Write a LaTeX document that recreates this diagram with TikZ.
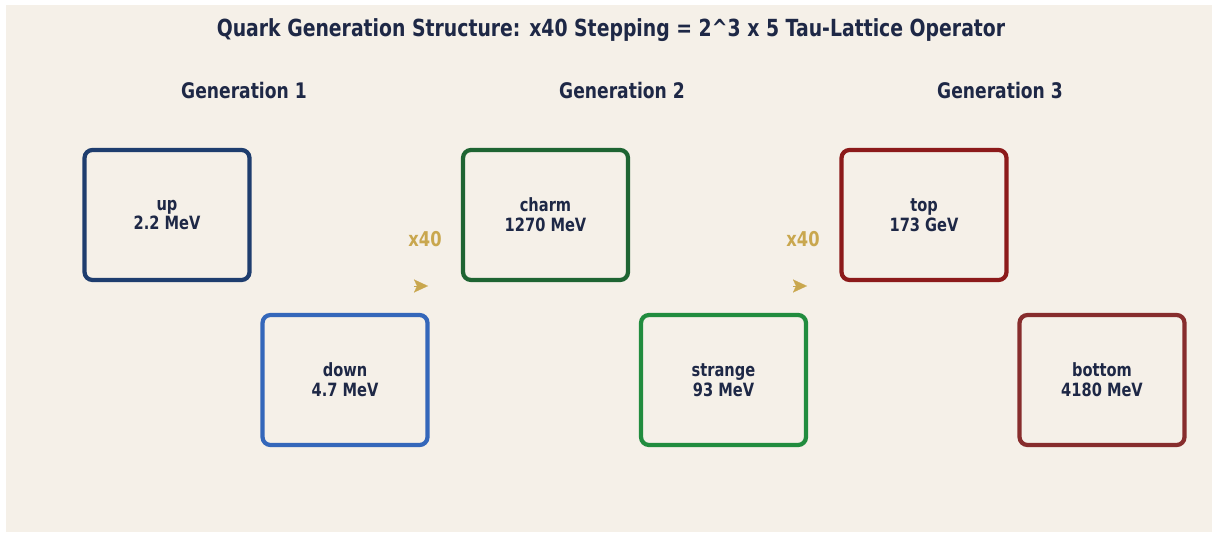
\documentclass[tikz,border=0pt]{standalone}
\usepackage{fontspec}
\setmainfont{DejaVu Sans}[FakeStretch=0.8]
\usetikzlibrary{positioning, arrows.meta}

\definecolor{paper}{RGB}{245,240,232}
\definecolor{ink}{RGB}{30,40,70}
\definecolor{gold}{RGB}{201,167,78}
\definecolor{upc}{RGB}{30,61,110}
\definecolor{downc}{RGB}{52,103,186}
\definecolor{charmc}{RGB}{30,100,50}
\definecolor{strangec}{RGB}{33,140,62}
\definecolor{topc}{RGB}{140,26,26}
\definecolor{bottomc}{RGB}{135,45,45}

\begin{document}
\begin{tikzpicture}[x=0.02cm, y=-0.02cm,
  quark/.style={draw, line width=2.4pt, rounded corners=4.5pt, minimum width=3.3cm,
    minimum height=2.6cm, align=center, text=ink,
    font=\bfseries\fontsize{10.4}{11.2}\selectfont},
  gen/.style={text=ink, font=\bfseries\fontsize{12.2}{14}\selectfont},
  factor/.style={text=gold, font=\bfseries\fontsize{11.6}{13}\selectfont},
  jump/.style={draw=gold, line width=0.1pt,
    -{Stealth[length=0.28cm, width=0.26cm, inset=0.06cm, fill=gold]}}]
\useasboundingbox (0,0) rectangle (1213,533);
\fill[white] (0,0) rectangle (1213,533);
\fill[paper] (6,5) rectangle (1212,532);

\node (title) [text=ink, font=\bfseries\fontsize{13.4}{16}\selectfont] at (611,30)
  {Quark Generation Structure: x40 Stepping = 2\^{}3 x 5 Tau-Lattice Operator};

% generation headers
\node (G1) [gen] at (244,91) {Generation 1};
\node (G2) [gen] at (622,91) {Generation 2};
\node (G3) [gen] at (1000,91) {Generation 3};

% quark boxes
\node (up) [quark, draw=upc] at (167,215) {up\\2.2 MeV};
\node (down) [quark, draw=downc] at (345,380) {down\\4.7 MeV};
\node (charm) [quark, draw=charmc] at (545.5,215) {charm\\1270 MeV};
\node (strange) [quark, draw=strangec] at (723.5,380) {strange\\93 MeV};
\node (top) [quark, draw=topc] at (924,215) {top\\173 GeV};
\node (bottom) [quark, draw=bottomc] at (1102,380) {bottom\\4180 MeV};

% x40 steps
\coordinate (s1a) at (414,286);
\coordinate (s1b) at (428,286);
\coordinate (s2a) at (793,286);
\coordinate (s2b) at (807,286);
\draw [jump] (s1a) -- (s1b);
\draw [jump] (s2a) -- (s2b);
\node (f1) [factor] at (425,239) {x40};
\node (f2) [factor] at (803,239) {x40};
\end{tikzpicture}
\end{document}
